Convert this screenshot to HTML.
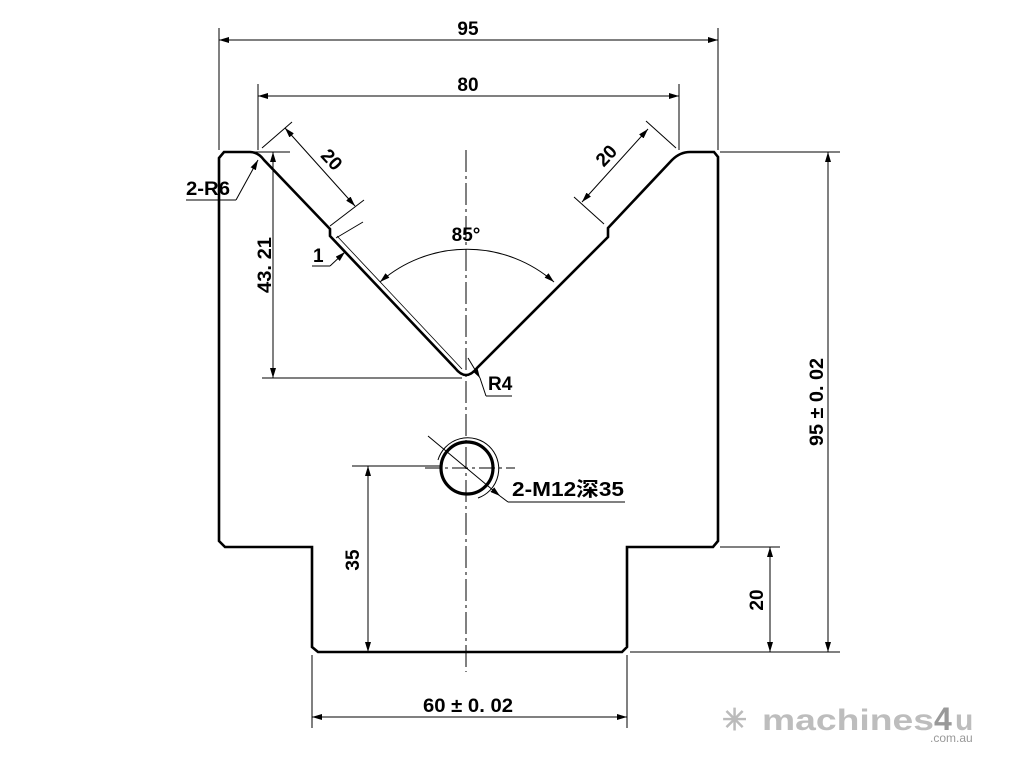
<!DOCTYPE html>
<html><head><meta charset="utf-8"><style>
html,body{margin:0;padding:0;background:#fff;}
svg{display:block;}
text{font-family:"Liberation Sans","Noto Sans CJK SC",sans-serif;font-weight:bold;fill:#000;}
</style></head><body>
<svg width="1024" height="768" viewBox="0 0 1024 768" xmlns="http://www.w3.org/2000/svg">
<defs>
<marker id="a" viewBox="0 0 10 6" refX="10" refY="3" markerWidth="10" markerHeight="6" orient="auto-start-reverse" markerUnits="userSpaceOnUse"><path d="M0,0 L10,3 L0,6 z" fill="#000"/></marker>
</defs>
<path d="M224,152 L250,152 Q258,152 264,160 L330,229 L330,236 L455,368 Q466,382 477,368 L608,237 L608,228 L672,160 Q680,152 690,152 L714,152 L718,157 L718,541 L713,547 L627,547 L627,647 L622,652 L318,652 L312,647 L312,547 L225,547 L219,541 L219,158 Z" fill="none" stroke="#000" stroke-width="2.6"/>
<g stroke="#000" stroke-width="1" fill="none">
<line x1="466" y1="150" x2="466" y2="672" stroke-dasharray="22,4,3,4"/>
<line x1="425" y1="468" x2="515" y2="468" stroke-dasharray="16,4,3,4"/>
<line x1="219" y1="28" x2="219" y2="150"/><line x1="718" y1="28" x2="718" y2="150"/>
<line x1="219" y1="40" x2="718" y2="40" marker-start="url(#a)" marker-end="url(#a)"/>
<line x1="258" y1="84" x2="258" y2="150"/><line x1="679" y1="84" x2="679" y2="150"/>
<line x1="258" y1="96" x2="679" y2="96" marker-start="url(#a)" marker-end="url(#a)"/>
<line x1="720" y1="152" x2="840" y2="152"/><line x1="630" y1="652" x2="840" y2="652"/>
<line x1="828" y1="152" x2="828" y2="652" marker-start="url(#a)" marker-end="url(#a)"/>
<line x1="720" y1="547" x2="780" y2="547"/>
<line x1="770" y1="547" x2="770" y2="652" marker-start="url(#a)" marker-end="url(#a)"/>
<line x1="352" y1="466" x2="440" y2="466"/>
<line x1="368" y1="466" x2="368" y2="652" marker-start="url(#a)" marker-end="url(#a)"/>
<line x1="312" y1="655" x2="312" y2="728"/><line x1="627" y1="655" x2="627" y2="728"/>
<line x1="312" y1="717" x2="627" y2="717" marker-start="url(#a)" marker-end="url(#a)"/>
<line x1="255" y1="152" x2="290" y2="152"/><line x1="262" y1="378" x2="462" y2="378"/>
<line x1="273" y1="152" x2="273" y2="378" marker-start="url(#a)" marker-end="url(#a)"/>
<line x1="262" y1="148" x2="292" y2="122"/><line x1="330" y1="226" x2="364" y2="200"/>
<line x1="285" y1="128" x2="355" y2="206" marker-start="url(#a)" marker-end="url(#a)"/>
<line x1="676" y1="148" x2="646" y2="121"/><line x1="604" y1="224" x2="574" y2="197"/>
<line x1="648" y1="129" x2="582" y2="202" marker-start="url(#a)" marker-end="url(#a)"/>
<line x1="336" y1="238" x2="363" y2="222"/>
<line x1="337" y1="236" x2="462" y2="369" stroke-width="0.8"/>
<line x1="312" y1="266" x2="330" y2="266"/><line x1="330" y1="266" x2="345" y2="252" marker-end="url(#a)"/>
<path d="M380,282 A132,132 0 0 1 554,282" marker-start="url(#a)" marker-end="url(#a)"/>
<line x1="186" y1="200" x2="236" y2="200"/><line x1="236" y1="200" x2="258" y2="160" marker-end="url(#a)"/>
<line x1="468" y1="358" x2="480" y2="378" marker-end="url(#a)"/><line x1="480" y1="378" x2="486" y2="396"/><line x1="486" y1="396" x2="512" y2="396"/>
<circle cx="467" cy="468" r="26" stroke-width="3.2"/>
<path d="M438,460 A31,31 0 1 1 478,498"/>
<line x1="428" y1="436" x2="500" y2="496" marker-end="url(#a)"/>
<line x1="500" y1="496" x2="508" y2="502"/><line x1="508" y1="502" x2="625" y2="502"/>
</g>
<g font-size="19">
<text x="468" y="35" text-anchor="middle">95</text>
<text x="468" y="91" text-anchor="middle">80</text>
<text x="466" y="241" text-anchor="middle">85°</text>
<text x="186" y="195" textLength="44" lengthAdjust="spacingAndGlyphs">2-R6</text>
<text x="313" y="262">1</text>
<text x="488" y="390">R4</text>
<text x="512" y="496" font-size="20" textLength="112" lengthAdjust="spacingAndGlyphs">2-M12深35</text>
<text x="468" y="712" text-anchor="middle" textLength="90" lengthAdjust="spacingAndGlyphs">60 ± 0. 02</text>
<text text-anchor="middle" transform="translate(327,164) rotate(47)">20</text>
<text text-anchor="middle" transform="translate(611,160) rotate(-47)">20</text>
<text text-anchor="middle" transform="translate(271,265) rotate(-90)" textLength="56" lengthAdjust="spacingAndGlyphs">43. 21</text>
<text text-anchor="middle" transform="translate(359,560) rotate(-90)">35</text>
<text text-anchor="middle" transform="translate(823,402) rotate(-90)" textLength="88" lengthAdjust="spacingAndGlyphs">95 ± 0. 02</text>
<text text-anchor="middle" transform="translate(763,600) rotate(-90)">20</text>
</g>
<text x="722" y="730" font-size="30" style="fill:#bbb">✳</text>
<text x="762" y="730" font-size="30" textLength="172" lengthAdjust="spacingAndGlyphs" style="fill:#bdbdbd">machines</text>
<text x="934" y="730" font-size="32" style="fill:#999">4</text>
<text x="955" y="730" font-size="30" style="fill:#bdbdbd">u</text>
<text x="930" y="742" font-size="12" style="fill:#999;font-weight:normal">.com.au</text>
</svg>
</body></html>
